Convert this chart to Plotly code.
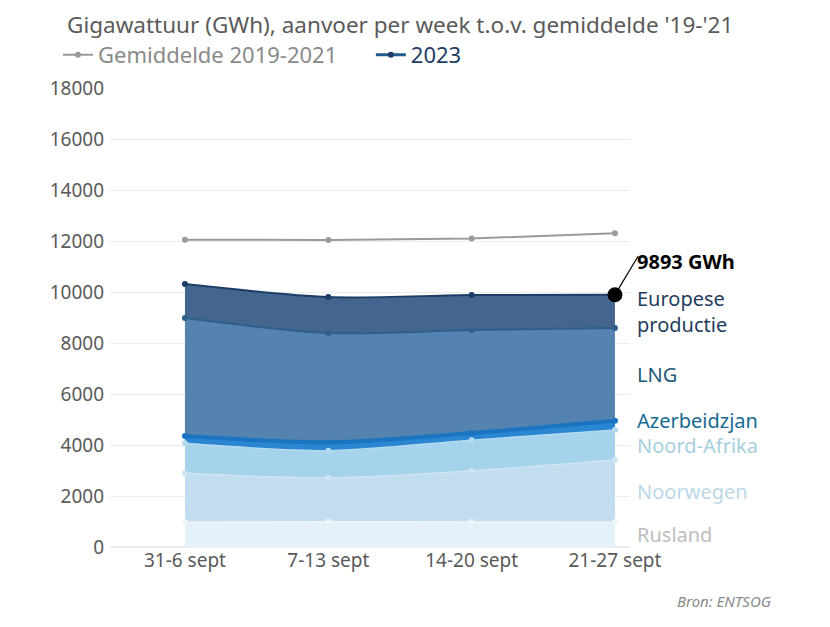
import plotly.graph_objects as go

# weken
weken = ['31-6 sept', '7-13 sept', '14-20 sept', '21-27 sept']

# gemiddelde 2019-2021 (totaal GWh)
gemiddelde = [12050, 12040, 12100, 12300]

# aanvoer 2023 per bron (GWh), van onder naar boven
rusland = [970, 990, 980, 970]
noorwegen = [1920, 1715, 2000, 2440]
noord_afrika = [1175, 1070, 1210, 1176]
azerbeidzjan = [286, 329, 279, 364]
lng = [4626, 4286, 4037, 3635]
europese_productie = [1333, 1410, 1374, 1308]

bronnen = ['Rusland', 'Noorwegen', 'Noord-Afrika', 'Azerbeidzjan', 'LNG', 'Europese<br>productie']
waarden = [rusland, noorwegen, noord_afrika, azerbeidzjan, lng, europese_productie]

vulkleur = ['#e4f1f9', '#c2ddef', '#a6d3ec', '#2a86d0', '#5383ae', '#44668e']
lijnkleur = ['#eef6fb', '#cfe5f3', '#b3daef', '#1b74c2', '#2f5f8f', '#1e3d66']
lijndikte = [1.5, 1.5, 1.5, 4, 2, 2]
labelkleur = ['#bdbdbd', '#bcd8e6', '#a8cfe0', '#176a91', '#1d5a7a', '#1f3c5e']

fig = go.Figure()

for naam, w, fc, lc, lw in zip(bronnen, waarden, vulkleur, lijnkleur, lijndikte):
    fig.add_trace(go.Scatter(x=weken, y=w, name=naam, stackgroup='een',
                             mode='lines+markers', fillcolor=fc,
                             line=dict(color=lc, width=lw, shape='spline', smoothing=0.8),
                             marker=dict(size=6, color=lc), showlegend=False,
                             hoverinfo='skip'))

fig.add_trace(go.Scatter(x=weken, y=gemiddelde,
                         name='Gemiddelde 2019-2021' + '&nbsp;' * 5,
                         mode='lines+markers', line=dict(color='#9a9a9a', width=2),
                         marker=dict(size=6, color='#9a9a9a')))

# dummy voor legenda
fig.add_trace(go.Scatter(x=[None], y=[None], name="<span style='color:#1e3d66'>2023</span>",
                         mode='lines+markers', line=dict(color='#1e5a8a', width=3),
                         marker=dict(size=6, color='#1e3d66')))

# totaal laatste week
totaal = [sum(v) for v in zip(*waarden)]
fig.add_trace(go.Scatter(x=[weken[-1]], y=[totaal[-1]], mode='markers',
                         marker=dict(size=15, color='black'), showlegend=False,
                         hoverinfo='skip'))

# labels rechts, midden van elke band
annotaties = []
onder = 0
for i, (naam, w) in enumerate(zip(bronnen, waarden)):
    midden = onder + w[-1] / 2
    onder += w[-1]
    annotaties.append(dict(x=weken[-1], y=midden, xref='x', yref='y', text=naam,
                           showarrow=False, xanchor='left', xshift=20,
                           yshift=5 if naam == 'Azerbeidzjan' else 0,
                           align='left',
                           font=dict(size=20, color=labelkleur[i], family='Noto Sans')))

annotaties.append(dict(x=weken[-1], y=totaal[-1], xref='x', yref='y', text='',
                       showarrow=True, arrowhead=0, arrowwidth=1.2, arrowcolor='black',
                       ax=24, ay=-40, standoff=6))
annotaties.append(dict(x=weken[-1], y=totaal[-1], xref='x', yref='y',
                       text='<b>%d GWh</b>' % totaal[-1], showarrow=False,
                       xanchor='left', xshift=20, yshift=33,
                       font=dict(size=20, color='black', family='Noto Sans')))

annotaties.append(dict(x=-0.087, y=1.138, xref='paper', yref='paper', xanchor='left',
                       yanchor='middle', showarrow=False,
                       text="Gigawattuur (GWh), aanvoer per week t.o.v. gemiddelde '19-'21",
                       font=dict(size=22.5, color='#5a5a5a', family='Noto Sans')))
annotaties.append(dict(x=1.275, y=-0.118, xref='paper', yref='paper', xanchor='right',
                       yanchor='middle', showarrow=False, text='<i>Bron: ENTSOG</i>',
                       font=dict(size=15, color='#8a8a8a', family='Noto Sans')))

fig.update_layout(
    width=830, height=627,
    margin=dict(l=102, r=208, t=80, b=88, autoexpand=False),
    plot_bgcolor='white', paper_bgcolor='white',
    font=dict(family='Noto Sans', color='#5a5a5a'),
    showlegend=True,
    legend=dict(orientation='h', x=-0.1, y=1.072, xanchor='left', yanchor='middle',
                traceorder='normal',
                font=dict(size=22, color='#8a8a8a'), itemwidth=30,
                bgcolor='rgba(0,0,0,0)'),
    annotations=annotaties,
    xaxis=dict(type='category', range=[-0.523, 3.105], showgrid=False,
               showline=False, ticks='', tickfont=dict(size=19, color='#5a5a5a')),
    yaxis=dict(range=[0, 18000], dtick=2000, tickformat='d', showgrid=True,
               gridcolor='#ececec', gridwidth=1, zeroline=True, zerolinecolor='#ececec',
               ticks='', tickfont=dict(size=19, color='#5a5a5a'), ticksuffix=' '),
)

fig.write_html("out.html")
